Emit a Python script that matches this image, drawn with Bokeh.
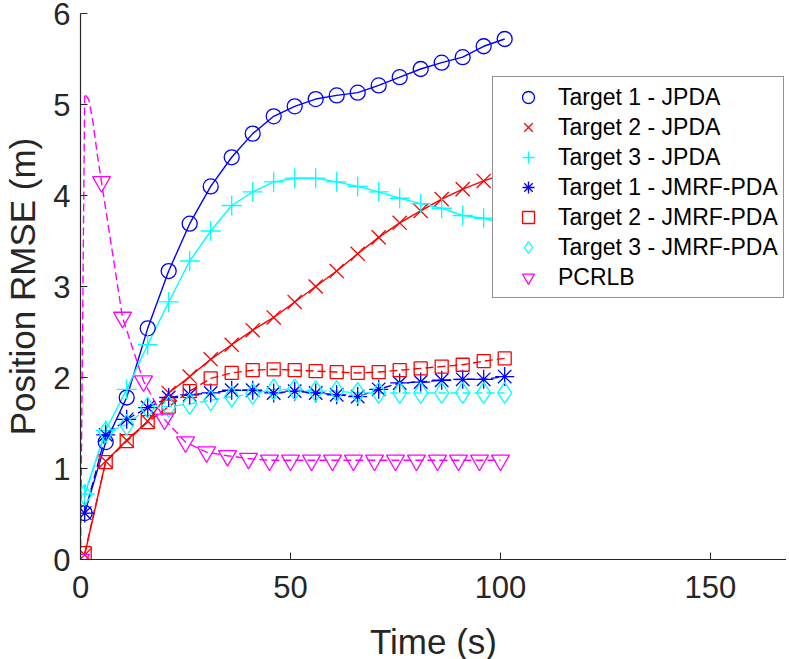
from bokeh.plotting import figure
from bokeh.models import Legend, LegendItem, Range1d, FixedTicker
from bokeh.embed import file_html
from bokeh.resources import INLINE

# ---- data ----
t_est = [1, 6, 11, 16, 21, 26, 31, 36, 41, 46, 51, 56, 61, 66, 71, 76, 81, 86, 91, 96, 101]
t1_jpda = [0.51, 1.29, 1.78, 2.54, 3.17, 3.69, 4.10, 4.42, 4.68, 4.87, 4.98, 5.06, 5.10, 5.13,
           5.21, 5.30, 5.39, 5.46, 5.52, 5.64, 5.72]
t2_jpda = [0.05, 1.08, 1.31, 1.52, 1.83, 2.01, 2.20, 2.36, 2.52, 2.66, 2.83, 3.00, 3.17, 3.36,
           3.54, 3.70, 3.83, 3.96, 4.07, 4.16, 4.24]
t3_jpda = [0.72, 1.42, 1.87, 2.36, 2.83, 3.28, 3.61, 3.89, 4.04, 4.15, 4.19, 4.19, 4.15, 4.10,
           4.04, 3.97, 3.91, 3.86, 3.78, 3.75, 3.69]
t1_jmrf = [0.51, 1.37, 1.54, 1.67, 1.78, 1.81, 1.83, 1.86, 1.86, 1.83, 1.85, 1.83, 1.81, 1.79,
           1.87, 1.94, 1.95, 1.97, 1.98, 1.98, 2.01]
t2_jmrf = [0.07, 1.07, 1.30, 1.51, 1.68, 1.85, 1.99, 2.05, 2.08, 2.09, 2.08, 2.07, 2.06, 2.05,
           2.06, 2.08, 2.10, 2.12, 2.14, 2.18, 2.21]
t3_jmrf = [0.71, 1.40, 1.48, 1.67, 1.68, 1.71, 1.75, 1.79, 1.82, 1.87, 1.87, 1.85, 1.85, 1.83,
           1.83, 1.83, 1.83, 1.83, 1.83, 1.83, 1.83]
t_crlb = [0, 5, 10, 15, 20, 25, 30, 35, 40, 45, 50, 55, 60, 65, 70, 75, 80, 85, 90, 95, 100]
pcrlb = [0.0, 4.15, 2.66, 1.96, 1.54, 1.29, 1.18, 1.14, 1.11, 1.09, 1.09, 1.09, 1.09, 1.09,
         1.09, 1.09, 1.09, 1.09, 1.09, 1.09, 1.09]
# PCRLB line has extra early samples (the initial spike)
t_crlb_line = [0, 1, 2, 3, 4, 5, 10, 15, 20, 25, 30, 35, 40, 45, 50, 55, 60, 65, 70, 75, 80,
               85, 90, 95, 100]
pcrlb_line = [0.0, 5.12, 5.05, 4.80, 4.45, 4.15, 2.66, 1.96, 1.54, 1.29, 1.18, 1.14, 1.11, 1.09,
              1.09, 1.09, 1.09, 1.09, 1.09, 1.09, 1.09, 1.09, 1.09, 1.09, 1.09]

x_ticks = [0, 50, 100, 150]
y_ticks = [0, 1, 2, 3, 4, 5, 6]

labels = ["Target 1 - JPDA", "Target 2 - JPDA", "Target 3 - JPDA",
          "Target 1 - JMRF-PDA", "Target 2 - JMRF-PDA", "Target 3 - JMRF-PDA", "PCRLB"]

BLUE, RED, CYAN, MAG = "#0000ff", "#ff0000", "#00ffff", "#ff00ff"
AX = "#262626"
FONT = "Liberation Sans"

p = figure(width=786, height=671, output_backend="svg", toolbar_location=None,
           x_range=Range1d(0, 168.1), y_range=Range1d(0, 6),
           min_border_left=80, min_border_right=0, min_border_top=13, min_border_bottom=112)
p.outline_line_color = None
p.grid.visible = False
p.background_fill_color = "white"

for ax in (p.xaxis[0], p.yaxis[0]):
    ax.axis_line_color = AX
    ax.axis_line_width = 1.2
    ax.major_tick_line_color = AX
    ax.major_tick_in = 7
    ax.major_tick_out = 0
    ax.minor_tick_line_color = None
    ax.major_label_text_color = AX
    ax.major_label_text_font = FONT
    ax.major_label_text_font_size = "31px"
    ax.axis_label_text_font = FONT
    ax.axis_label_text_font_size = "35px"
    ax.axis_label_text_font_style = "normal"
    ax.axis_label_text_color = AX

p.xaxis.ticker = FixedTicker(ticks=x_ticks)
p.yaxis.ticker = FixedTicker(ticks=y_ticks)
p.xaxis.axis_label = "Time (s)"
p.yaxis.axis_label = "Position RMSE (m)"
p.xaxis.major_label_standoff = 16
p.yaxis.major_label_standoff = 10
p.xaxis.axis_label_standoff = 21
p.yaxis.axis_label_standoff = 8

LW = 1.4
# lines
p.line(t_est, t1_jpda, line_color=BLUE, line_width=LW)
p.line(t_est, t2_jpda, line_color=RED, line_width=LW)
p.line(t_est, t3_jpda, line_color=CYAN, line_width=LW)
p.line(t_est, t1_jmrf, line_color=BLUE, line_width=LW, line_dash="8 4")
p.line(t_est, t2_jmrf, line_color=RED, line_width=LW, line_dash="8 4")
p.line(t_est, t3_jmrf, line_color=CYAN, line_width=LW, line_dash="8 4")
p.line(t_crlb_line, pcrlb_line, line_color=MAG, line_width=LW, line_dash="8 4")

ML = 1.3
r1 = p.scatter(t_est, t1_jpda, marker="circle", size=15, fill_color=None, line_color=BLUE, line_width=ML)
r2 = p.scatter(t_est, t2_jpda, marker="x", size=20, fill_color=None, line_color=RED, line_width=ML)
r3 = p.scatter(t_est, t3_jpda, marker="cross", size=20, fill_color=None, line_color=CYAN, line_width=ML)
r4 = p.scatter(t_est, t1_jmrf, marker="asterisk", size=19, fill_color=None, line_color=BLUE, line_width=ML)
r5 = p.scatter(t_est, t2_jmrf, marker="square", size=13, fill_color=None, line_color=RED, line_width=ML)
r6 = p.scatter(t_est, t3_jmrf, marker="diamond", size=21, fill_color=None, line_color=CYAN, line_width=ML)
r7 = p.scatter(t_crlb, pcrlb, marker="inverted_triangle", size=18, fill_color=None, line_color=MAG, line_width=ML)

items = [LegendItem(label=l, renderers=[r]) for l, r in zip(labels, [r1, r2, r3, r4, r5, r6, r7])]
legend = Legend(items=items, location=(412, 261))
legend.label_text_font = FONT
legend.label_text_font_size = "23px"
legend.label_text_color = "black"
legend.glyph_width = 60
legend.glyph_height = 30
legend.label_height = 30
legend.spacing = 0
legend.padding = 5
legend.margin = 0
legend.label_standoff = 0
legend.border_line_color = AX
legend.border_line_width = 1.2
legend.background_fill_color = "white"
legend.background_fill_alpha = 1.0
p.add_layout(legend, "center")

open("out.html", "w").write(file_html(p, INLINE))
